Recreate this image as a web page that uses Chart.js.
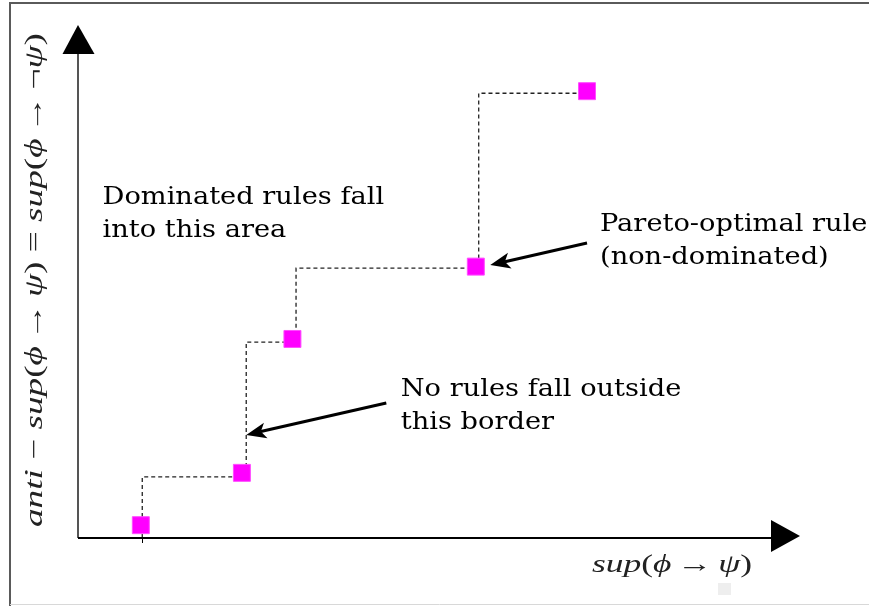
<!DOCTYPE html>
<html>
<head>
<meta charset="utf-8">
<script src="https://cdn.jsdelivr.net/npm/chart.js@4.4.1/dist/chart.umd.min.js"></script>
<style>
  html, body { margin: 0; padding: 0; background: #fff; }
  #wrap { width: 869px; height: 606px; }
</style>
</head>
<body>
<div id="wrap"><canvas id="myChart" width="869" height="606"></canvas></div>
<script>
// rules: support on x, anti-support on y (arbitrary 0-100 units)
const supValues = [8.7, 22.7, 29.7, 55.1, 70.5];
const antiSupValues = [2.5, 12.7, 38.8, 52.9, 87.1];

// corners of the dashed pareto border
const frontierX = [8.9, 23.3, 30.2, 55.5, 70.5];
const frontierY = [0, 11.9, 38.2, 52.6, 86.7];

const xRange = [0, 100];
const yRange = [0, 100];

// annotation text + arrows, placed in data units
const notes = [
  { lines: ['Dominated rules fall', 'into this area'], x: 3.4, y: 65.1 },
  { lines: ['Pareto-optimal rule', '(non-dominated)'], x: 72.3, y: 59.8 },
  { lines: ['No rules fall outside', 'this border'], x: 44.7, y: 27.7 }
];
const arrows = [
  { from: [70.5, 57.5], to: [57.1, 53.2] },
  { from: [42.7, 26.3], to: [23.3, 20.1] }
];

// math labels as runs: i = italic, n = upright, g = gap in px
const xLabel = [['sup', 'i'], ['(', 'n'], ['\u03d5', 'i'], [4, 'g'], ['\u2192', 'n'], [4, 'g'], ['\u03c8', 'i'], [')', 'n']];
const yLabel = [['anti', 'i'], [' \u2212 ', 'n'], ['sup', 'i'], ['(', 'n'], ['\u03d5', 'i'], [4, 'g'], ['\u2192', 'n'], [4, 'g'], ['\u03c8', 'i'], [')', 'n'],
  [' = ', 'n'], ['sup', 'i'], ['(', 'n'], ['\u03d5', 'i'], [4, 'g'], ['\u2192', 'n'], [4, 'g'], ['\u00ac', 'n'], ['\u03c8', 'i'], [')', 'n']];

const mathFont = '"Liberation Serif", "DejaVu Serif", serif';
const textFont = '"DejaVu Serif", "Liberation Serif", serif';

function runWidth(ctx, r, size) {
  if (r[1] == 'g') return r[0];
  ctx.font = (r[1] == 'i' ? 'italic ' : '') + size + 'px ' + mathFont;
  return ctx.measureText(r[0]).width;
}

function drawRuns(ctx, runs, size, width) {
  // measure, then squeeze to the width the label has in the picture
  let total = 0;
  runs.forEach(r => { total += runWidth(ctx, r, size); });
  ctx.scale(width / total, 1);
  let x = 0;
  runs.forEach(r => {
    const w = runWidth(ctx, r, size);
    if (r[1] != 'g') ctx.fillText(r[0], x, 0);
    x += w;
  });
}

function drawArrow(ctx, x1, y1, x2, y2) {
  const ang = Math.atan2(y2 - y1, x2 - x1);
  const c = Math.cos(ang), s = Math.sin(ang);
  const len = 20, half = 8, notch = 5;
  const bx = x2 - len * c, by = y2 - len * s;
  ctx.lineWidth = 3;
  ctx.beginPath();
  ctx.moveTo(x1, y1);
  ctx.lineTo(bx + notch * c, by + notch * s);
  ctx.stroke();
  ctx.beginPath();
  ctx.moveTo(x2, y2);
  ctx.lineTo(bx - half * s, by + half * c);
  ctx.lineTo(bx + notch * c, by + notch * s);
  ctx.lineTo(bx + half * s, by - half * c);
  ctx.closePath();
  ctx.fill();
}

const decorations = {
  id: 'decorations',
  beforeDraw(chart) {
    const ctx = chart.ctx;
    ctx.save();
    ctx.fillStyle = '#fff';
    ctx.fillRect(0, 0, chart.width, chart.height);
    // picture frame
    ctx.strokeStyle = '#5a5a5a';
    ctx.lineWidth = 2;
    ctx.beginPath();
    ctx.moveTo(10, 606);
    ctx.lineTo(10, 3);
    ctx.lineTo(869, 3);
    ctx.stroke();
    ctx.strokeStyle = '#d8d8d8';
    ctx.lineWidth = 1;
    ctx.beginPath();
    ctx.moveTo(10, 604.5);
    ctx.lineTo(869, 604.5);
    ctx.stroke();
    ctx.fillStyle = '#eeeeee';
    ctx.fillRect(718, 583, 13, 12);
    ctx.restore();
  },
  afterDatasetsDraw(chart) {
    const ctx = chart.ctx;
    const a = chart.chartArea;
    const xs = chart.scales.x, ys = chart.scales.y;
    ctx.save();

    // y axis with arrow head
    ctx.strokeStyle = '#555';
    ctx.lineWidth = 2;
    ctx.beginPath();
    ctx.moveTo(a.left, a.bottom);
    ctx.lineTo(a.left, a.top + 25);
    ctx.stroke();
    ctx.fillStyle = '#000';
    ctx.beginPath();
    ctx.moveTo(a.left, a.top);
    ctx.lineTo(a.left - 15.5, a.top + 29);
    ctx.lineTo(a.left + 16.5, a.top + 29);
    ctx.closePath();
    ctx.fill();

    // x axis with arrow head
    ctx.strokeStyle = '#000';
    ctx.beginPath();
    ctx.moveTo(a.left, a.bottom);
    ctx.lineTo(a.right - 25, a.bottom);
    ctx.stroke();
    ctx.beginPath();
    ctx.moveTo(a.right, a.bottom - 2);
    ctx.lineTo(a.right - 29, a.bottom - 18);
    ctx.lineTo(a.right - 29, a.bottom + 14);
    ctx.closePath();
    ctx.fill();

    // little tick where the border meets the axis
    const tx = Math.round(xs.getPixelForValue(frontierX[0])) + 0.5;
    ctx.lineWidth = 1;
    ctx.beginPath();
    ctx.moveTo(tx, a.bottom);
    ctx.lineTo(tx, a.bottom + 5);
    ctx.stroke();

    // notes
    ctx.fillStyle = '#000';
    ctx.font = '25px ' + textFont;
    ctx.textBaseline = 'alphabetic';
    notes.forEach(n => {
      const px = xs.getPixelForValue(n.x), py = ys.getPixelForValue(n.y);
      n.lines.forEach((t, i) => {
        ctx.save();
        ctx.translate(px, py + i * 33);
        ctx.scale(1.09, 1);
        ctx.fillText(t, 0, 0);
        ctx.restore();
      });
    });

    // arrows
    ctx.strokeStyle = '#000';
    arrows.forEach(ar => {
      drawArrow(ctx,
        xs.getPixelForValue(ar.from[0]), ys.getPixelForValue(ar.from[1]),
        xs.getPixelForValue(ar.to[0]), ys.getPixelForValue(ar.to[1]));
    });

    // axis titles
    ctx.fillStyle = '#222';
    ctx.save();
    ctx.translate(592, 572);
    drawRuns(ctx, xLabel, 25, 160);
    ctx.restore();
    ctx.save();
    ctx.translate(42, 527);
    ctx.rotate(-Math.PI / 2);
    drawRuns(ctx, yLabel, 25, 494);
    ctx.restore();

    ctx.restore();
  }
};

const ctx = document.getElementById('myChart');

new Chart(ctx, {
  type: 'scatter',
  data: {
    datasets: [
      {
        label: 'rules',
        data: supValues.map((v, i) => ({ x: v, y: antiSupValues[i] })),
        pointStyle: 'rect',
        pointRadius: 12,
        backgroundColor: '#ff00ff',
        borderColor: '#ff4dff',
        borderWidth: 1,
        order: 0
      },
      {
        label: 'border',
        type: 'line',
        data: frontierX.map((v, i) => ({ x: v, y: frontierY[i] })),
        stepped: 'after',
        borderColor: '#222',
        borderWidth: 1.3,
        borderDash: [4, 3],
        pointRadius: 0,
        fill: false,
        order: 1
      }
    ]
  },
  options: {
    responsive: false,
    animation: false,
    layout: {
      padding: { left: 78, top: 25, right: 69, bottom: 68 }
    },
    scales: {
      x: { type: 'linear', display: false, min: xRange[0], max: xRange[1] },
      y: { type: 'linear', display: false, min: yRange[0], max: yRange[1] }
    },
    plugins: {
      legend: { display: false },
      tooltip: { enabled: false }
    }
  },
  plugins: [decorations]
});
</script>
</body>
</html>
